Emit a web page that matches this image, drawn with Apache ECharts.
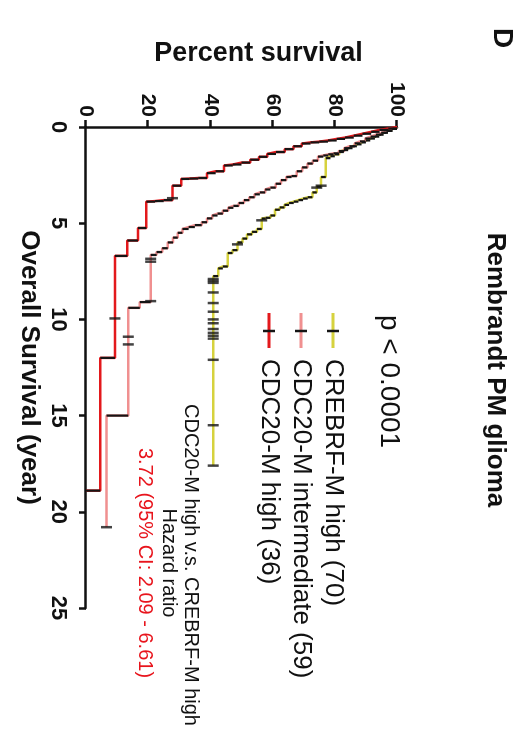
<!DOCTYPE html>
<html><head><meta charset="utf-8">
<script src="https://cdn.jsdelivr.net/npm/echarts@6/dist/echarts.min.js"></script>
<style>
html,body{margin:0;padding:0;background:#fff;overflow:hidden;width:522px;height:740px;}
#wrap{position:absolute;left:0;top:0;width:740px;height:522px;transform-origin:0 0;transform:translateX(522px) rotate(90deg);}
</style></head><body>
<div id="wrap"></div>
<script>
// ---- data ----
const xTicks = [0, 5, 10, 15, 20, 25];
const yTicks = [0, 20, 40, 60, 80, 100];
const seriesNames = ['CREBRF-M high (70)', 'CDC20-M intermediate (59)', 'CDC20-M high (36)'];
const seriesColors = ['#d6d23e', '#f09090', '#e3191c'];

const crebrfTimes = [0.1,0.2,0.3,0.4,0.5,0.6,0.7,0.8,0.9,1.0,1.1,1.2,1.3,1.42,1.52,1.62,2.6,3.1,3.4,3.65,3.72,3.8,3.88,3.95,4.05,4.18,4.3,4.6,4.72,4.76,5.3,5.45,5.58,5.8,6.0,6.4,6.55,7.25,7.35,7.75];
const crebrfSurv  = [98.6,97.1,95.7,94.3,92.9,91.4,90.0,88.6,87.1,85.7,84.3,82.9,81.4,80.0,78.6,77.1,75.6,74.2,72.8,71.3,69.8,68.3,66.8,65.3,63.8,62.3,60.8,59.3,57.8,56.5,55.0,53.4,51.8,50.3,48.7,47.1,45.6,44.0,42.5,40.9];
const crebrfCensor = [3.05,3.15,4.85,6.1,7.9,8.0,8.1,8.6,9.15,9.6,10.0,10.2,10.5,10.7,10.85,11.0,12.1,15.5,17.6];
const crebrfEnd = 17.6;

const interTimes = [0.1,0.2,0.3,0.4,0.5,0.6,0.75,0.85,1.0,1.1,1.25,1.37,1.42,1.48,1.54,1.75,1.9,2.1,2.3,2.55,2.6,2.76,2.95,3.15,3.25,3.4,3.5,3.65,3.8,3.95,4.1,4.2,4.35,4.5,4.6,4.75,4.95,5.1,5.2,5.3,5.5,5.75,6.0,6.3,6.5,6.65,9.1,9.4,15.0];
const interSurv  = [98.3,96.6,94.9,93.2,91.5,89.8,88.1,86.4,84.7,83.0,81.3,79.6,77.9,76.3,74.6,72.9,71.2,69.5,67.8,66.1,64.4,62.7,61.0,59.3,57.6,55.9,54.2,52.5,50.8,49.1,47.4,45.7,44.0,42.3,40.6,38.9,37.2,35.0,33.0,31.0,29.5,28.0,26.3,24.5,22.7,20.8,17.3,13.6,6.6];
const interCensor = [6.85,7.0,9.05,10.9,11.3,20.8];
const interEnd = 20.8;

const highTimes = [0.08,0.15,0.25,0.35,0.45,0.55,0.62,0.7,0.76,0.8,0.86,1.0,1.15,1.3,1.4,1.55,1.7,1.85,1.95,2.0,2.3,2.4,2.65,2.68,2.7,3.05,3.8,3.85,3.88,5.25,5.9,6.7,12.0,18.9];
const highSurv  = [97.2,94.4,91.7,88.9,86.1,83.3,80.6,77.8,75.0,72.2,69.4,66.7,63.9,61.1,58.3,55.6,52.8,50.0,47.2,44.4,41.7,38.9,36.1,33.3,30.6,27.8,25.0,22.2,19.4,16.7,13.3,9.3,4.6,0];
const highCensor = [3.7, 9.95];
const highEnd = 18.9;

const pText = 'p < 0.0001';
const hrLines = ['CDC20-M high v.s. CREBRF-M high', 'Hazard ratio'];
const hrValue = '3.72 (95% CI: 2.09 - 6.61)';

// ---- build ----
const FONT = '"Liberation Sans", Arial, Helvetica, sans-serif';
const curves = [
  {t: crebrfTimes, s: crebrfSurv, c: crebrfCensor, end: crebrfEnd},
  {t: interTimes, s: interSurv, c: interCensor, end: interEnd},
  {t: highTimes, s: highSurv, c: highCensor, end: highEnd}
];
function survAt(cv, time) {
  let v = 100;
  for (let i = 0; i < cv.t.length; i++) { if (cv.t[i] <= time) v = cv.s[i]; }
  return v;
}
const series = [];
curves.forEach((cv, k) => {
  const pts = [[0, 100]];
  cv.t.forEach((t, i) => pts.push([t, cv.s[i]]));
  if (cv.end > cv.t[cv.t.length - 1]) pts.push([cv.end, cv.s[cv.s.length - 1]]);
  series.push({
    name: seriesNames[k], type: 'line', step: 'end', data: pts, showSymbol: false, symbol: 'none',
    lineStyle: {color: seriesColors[k], width: 2.5}, itemStyle: {color: seriesColors[k]}, z: 2, silent: true
  });
});
curves.forEach((cv, k) => {
  const drops = cv.t.map((t, i) => [t, i === 0 ? 100 : cv.s[i - 1], cv.s[i]]);
  series.push({
    name: seriesNames[k] + ' steps', type: 'custom', z: 3, silent: true,
    encode: {x: 0, y: [1, 2]},
    renderItem: function (params, api) {
      const a = api.coord([api.value(0), api.value(1)]);
      const b = api.coord([api.value(0), api.value(2)]);
      return {type: 'line', shape: {x1: a[0], y1: a[1], x2: b[0], y2: b[1]}, style: {stroke: '#151515', lineWidth: 2.2}};
    },
    data: drops
  });
});
curves.forEach((cv, k) => {
  series.push({
    name: seriesNames[k] + ' censored', type: 'scatter', z: 4, silent: true,
    symbol: 'rect', symbolSize: [2.5, 11], itemStyle: {color: '#151515'},
    data: cv.c.map(t => [t, survAt(cv, t)])
  });
});

const graphics = [
  {type: 'text', left: 28, top: 6, style: {text: 'D', font: 'bold 28px ' + FONT, fill: '#111'}},
  {type: 'text', left: 315, top: 119, style: {text: pText, font: '28px ' + FONT, fill: '#111'}}
];
const legendY = [189, 221, 253];
seriesNames.forEach((nm, k) => {
  graphics.push({type: 'line', shape: {x1: 313, y1: legendY[k], x2: 348, y2: legendY[k]}, style: {stroke: seriesColors[k], lineWidth: 3}});
  graphics.push({type: 'line', shape: {x1: 331, y1: legendY[k] - 6, x2: 331, y2: legendY[k] + 6}, style: {stroke: '#151515', lineWidth: 2.5}});
  graphics.push({type: 'text', x: 359, y: legendY[k], style: {text: nm, font: '26px ' + FONT, fill: '#111', verticalAlign: 'middle', align: 'left'}});
});
graphics.push({type: 'text', x: 565, y: 331, style: {text: hrLines[0], font: '20px ' + FONT, fill: '#111', align: 'center', verticalAlign: 'middle'}});
graphics.push({type: 'text', x: 563, y: 353, style: {text: hrLines[1], font: '20px ' + FONT, fill: '#111', align: 'center', verticalAlign: 'middle'}});
graphics.push({type: 'text', x: 563, y: 377, style: {text: hrValue, font: '20px ' + FONT, fill: '#e8141c', align: 'center', verticalAlign: 'middle'}});

const chart = echarts.init(document.getElementById('wrap'), null, {renderer: 'canvas', width: 740, height: 522});
chart.setOption({
  animation: false,
  backgroundColor: '#fff',
  title: {text: 'Rembrandt PM glioma', left: 365, top: 9, textAlign: 'center',
    textStyle: {fontFamily: FONT, fontSize: 26, fontWeight: 'bold', color: '#111'}},
  grid: {left: 127, top: 125, width: 481, height: 311},
  xAxis: {
    type: 'value', min: xTicks[0], max: xTicks[xTicks.length - 1], interval: xTicks[1] - xTicks[0],
    name: 'Overall Survival (year)', nameLocation: 'middle', nameGap: 43,
    nameTextStyle: {fontFamily: FONT, fontSize: 26, fontWeight: 'bold', color: '#111'},
    axisLine: {onZero: false, lineStyle: {color: '#111', width: 2.5}},
    axisTick: {length: 7, lineStyle: {color: '#111', width: 2.5}},
    axisLabel: {margin: 17, fontFamily: FONT, fontSize: 22, fontWeight: 'bold', color: '#111'},
    splitLine: {show: false}
  },
  yAxis: {
    type: 'value', min: yTicks[0], max: yTicks[yTicks.length - 1], interval: yTicks[1] - yTicks[0],
    name: 'Percent survival', nameLocation: 'middle', nameRotate: 90, nameGap: 60,
    nameTextStyle: {fontFamily: FONT, fontSize: 27, fontWeight: 'bold', color: '#111', padding: [0, 0, 0, 34]},
    axisLine: {show: true, onZero: false, lineStyle: {color: '#111', width: 2.5}},
    axisTick: {show: true, length: 7, lineStyle: {color: '#111', width: 2.5}},
    axisLabel: {margin: 10, fontFamily: FONT, fontSize: 21, fontWeight: 'bold', color: '#111'},
    splitLine: {show: false}
  },
  graphic: graphics,
  series: series
});
</script></body></html>
